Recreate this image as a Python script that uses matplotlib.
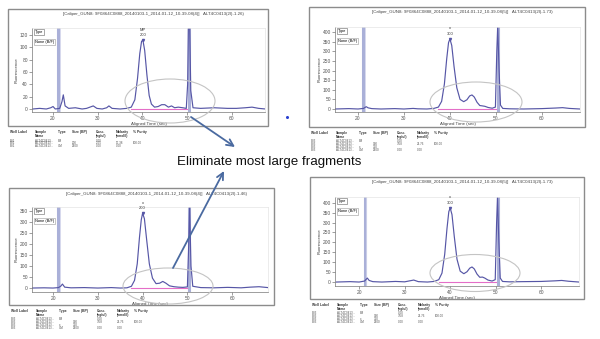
import matplotlib
matplotlib.use("Agg")
from matplotlib import pyplot as plt
from matplotlib.patches import Ellipse, Rectangle

plt.rcParams['font.family'] = ['Liberation Sans', 'DejaVu Sans']

# ---- data ----
# panel 1 (top left)
time1 = [15.5, 17, 18.5, 19.5, 20, 20.5, 21.5, 22.0, 22.3, 22.7, 23.5, 25, 26.5, 27.5,
         29, 29.8, 31, 32, 32.5, 33.2, 35, 36.5, 37.5, 38.3, 38.9, 39.4, 39.8, 40.1,
         40.5, 41.0, 41.5, 42.0, 42.7, 43.5, 44.3, 45.0, 45.8, 46.5, 47.2, 48, 49,
         49.8, 50.1, 50.3, 50.5, 50.8, 51.3, 53, 56, 59, 61, 63, 64.5, 66, 67.5]
fluor1 = [0, 1, 0, 2, 4, 0, 1, 12, 23, 5, 1, 2, 0, 1, 5, 1, 0, 2, 5, 1, 0, 1, 3, 15,
          50, 90, 110, 112, 95, 55, 22, 8, 3, 4, 7, 7, 3, 5, 2, 3, 2, 1, 40, 160, 160,
          30, 2, 1, 2, 1, 1, 2, 3, 1, 0]

# panel 2 (top right)
time2 = [15.0, 18, 20, 21.2, 21.8, 22.2, 23, 25, 28, 30, 32, 33, 35, 36.5, 37.5, 38.2,
         38.8, 39.3, 39.7, 40.0, 40.4, 40.9, 41.5, 42.2, 43, 43.7, 44.3, 44.8, 45.3,
         45.9, 46.5, 47.1, 47.6, 48.3, 49.2, 49.9, 50.2, 50.4, 50.7, 51.0, 51.5, 53,
         56, 60, 63, 64.5, 66, 68.3]
fluor2 = [0, 2, 0, 3, 12, 6, 2, 0, 2, 0, 3, 1, 0, 3, 10, 40, 130, 260, 345, 364, 330,
          220, 110, 50, 38, 48, 68, 73, 62, 35, 18, 16, 14, 8, 4, 10, 300, 430, 200,
          20, 3, 1, 0, 2, 5, 7, 3, 0]

# panel 3 (bottom left)
time3 = [15.3, 18, 20, 21.2, 21.7, 22.1, 22.6, 24, 27, 30, 33, 35, 36.5, 37.5, 38.2,
         38.8, 39.3, 39.7, 40.0, 40.4, 40.9, 41.5, 42.2, 43, 43.8, 44.5, 45.2, 46, 47,
         48, 49, 50.0, 50.3, 50.5, 50.8, 51.2, 53, 56, 59, 62, 64, 66, 68]
fluor3 = [0, 1, 0, 2, 8, 18, 4, 1, 2, 0, 2, 0, 1, 8, 35, 110, 230, 310, 340, 315, 220,
          110, 45, 20, 22, 30, 22, 10, 6, 4, 3, 5, 200, 370, 100, 8, 2, 1, 3, 1, 4, 6, 2]

# panel 4 (bottom right)
time4 = time2
fluor4 = [0, 2, 0, 5, 20, 8, 2, 0, 3, 1, 10, 2, 0, 3, 12, 45, 140, 270, 355, 374, 340,
          230, 115, 55, 42, 52, 70, 76, 66, 40, 24, 25, 20, 10, 5, 12, 300, 430, 200,
          20, 3, 1, 2, 3, 6, 8, 4, 0]

lower_marker = 21.2
upper_marker = 50.4
baseline_span = (37.5, 50.0)

peak_time = [40.1, 40.0, 40.0, 40.0]
peak_height = [112, 364, 340, 374]
peak_name = ["MP", "x", "x", "x"]
peak_size = ["200", "300", "200", "300"]

titles = [
    "[Caliper_GUN8: 9F0864C0888_20140103-1_2014-01-12_10-39-08(4)]   ALT4C0413(2I)-1.26)",
    "[Caliper_GUN8: 9F0864C0888_20140103-1_2014-01-12_10-39-08(5)]   ALT4C0413(2I)-1.73)",
    "[Caliper_GUN8: 9F0864C0888_20140103-1_2014-01-12_10-39-08(4)]   ALT4C0413(2I)-1.46)",
    "[Caliper_GUN8: 9F0864C0888_20140103-1_2014-01-12_10-39-08(5)]   ALT4C0413(2I)-1.73)",
]
y_ticks = [range(0, 121, 20), range(0, 401, 50), range(0, 351, 50), range(0, 401, 50)]

table_header = ["Well Label", "Sample\nName", "Type", "Size (BP)", "Conc.\n(ng/ul)",
                "Molarity\n(nmol/l)", "% Purity"]
table_rows_short = [
    ["B01", "ALT4C0413...", "LM", "", "0.00", "", ""],
    ["B01", "ALT4C0413...", "", "200", "2.55", "17.38", "100.00"],
    ["B01", "ALT4C0413...", "UM", "2500", "0.00", "0.00", ""],
]
table_rows_long = [
    ["B03", "ALT4C0413...", "LM", "", "0.00", "", ""],
    ["B03", "ALT4C0413...", "", "300", "3.58", "21.76", "100.00"],
    ["B03", "ALT4C0413...", "x", "320", "", "", ""],
    ["B03", "ALT4C0413...", "UM", "2500", "0.00", "0.00", ""],
]
tables = [table_rows_short, table_rows_long, table_rows_long, table_rows_long]

# ---- layout (pixels: left, top, right, bottom) ----
W, H = 600, 339
frames = [(8, 9, 268, 126), (309, 7, 585, 127), (9, 188, 274, 305), (310, 177, 584, 299)]
plot_boxes = [(32, 28, 265, 112), (335, 27, 580, 112), (32, 207, 268, 292), (335, 197, 579, 286)]
x_limits = [(15.3, 67.4), (15.0, 68.3), (15.3, 68.0), (14.7, 68.3)]
y_limits = [(-4.9, 131.7), (-15.6, 426), (-18, 368), (-20, 429)]
table_tops = [130, 131, 309, 303]
col_offsets = [2, 27, 50, 64, 88, 108, 125]
ellipses = [(170, 101, 90, 44), (476, 102, 92, 40), (168, 286, 90, 36), (475, 273, 90, 37)]

trace_color = "#5656a6"
marker_color = "#aab0d8"
pink = "#e46ec8"

fig = plt.figure(figsize=(W / 100, H / 100), dpi=100)


def rect(box):
    l, t, r, b = box
    return [l / W, 1 - b / H, (r - l) / W, (b - t) / H]


series = [(time1, fluor1), (time2, fluor2), (time3, fluor3), (time4, fluor4)]

for i, (t, f) in enumerate(series):
    ax = fig.add_axes(rect(plot_boxes[i]))
    ax.axvline(lower_marker, color=marker_color, lw=2.2)
    ax.axvline(lower_marker + 0.35, color="#d0d3ea", lw=0.6)
    ax.axvline(upper_marker, color=marker_color, lw=2.2)
    ax.plot(list(baseline_span), [0, 0], color=pink, lw=0.8)
    ax.plot(t, f, color=trace_color, lw=0.85)
    ax.plot(peak_time[i], peak_height[i], marker="v", ms=1.5, color=trace_color)
    ax.annotate(peak_name[i] + "\n" + peak_size[i], (peak_time[i], peak_height[i]),
                xytext=(0, 2), textcoords="offset points", ha="center", va="bottom",
                fontsize=3, color="#333333", linespacing=1.6, annotation_clip=False)
    ax.set_xlim(*x_limits[i])
    ax.set_ylim(*y_limits[i])
    ax.set_xticks([20, 30, 40, 50, 60])
    ax.set_yticks(list(y_ticks[i]))
    ax.tick_params(labelsize=3.5, length=2, width=0.4, pad=1, colors="#555555")
    ax.set_xlabel("Aligned Time (sec)", fontsize=3.2, labelpad=0.5, color="#444444")
    ax.set_ylabel("Fluorescence", fontsize=3.2, labelpad=1, color="#444444")
    for side in ["top", "right"]:
        ax.spines[side].set_color("#e4e4e4")
    for side in ["left", "bottom"]:
        ax.spines[side].set_color("#777777")
    for s in ax.spines.values():
        s.set_linewidth(0.5)
    ax.text(0.012, 0.975, "Type", transform=ax.transAxes, fontsize=2.8, va="top",
            bbox=dict(boxstyle="square,pad=0.3", fc="white", ec="#666666", lw=0.4))
    ax.text(0.012, 0.86, "None (B/F)", transform=ax.transAxes, fontsize=2.8, va="top",
            bbox=dict(boxstyle="square,pad=0.3", fc="white", ec="#999999", lw=0.4))

# overlay in pixel coordinates for frames, titles, tables and annotations
ov = fig.add_axes([0, 0, 1, 1])
ov.set_xlim(0, W)
ov.set_ylim(H, 0)
ov.axis("off")
ov.patch.set_alpha(0)

for i, (l, t, r, b) in enumerate(frames):
    ov.add_patch(Rectangle((l, t), r - l, b - t, fill=False, ec="#8c8c8c", lw=1.0))
    ov.text((l + r) / 2 + 15, t + 5.5, titles[i], fontsize=3.2, ha="center",
            va="center", color="#444444")
    top = table_tops[i]
    for c, head in enumerate(table_header):
        ov.text(l + col_offsets[c], top, head, fontsize=2.4, fontweight="bold",
                va="top", color="#333333", linespacing=1.1)
    for r_i, row in enumerate(tables[i]):
        for c, cell in enumerate(row):
            ov.text(l + col_offsets[c], top + 8.5 + r_i * 2.9, cell, fontsize=2.2,
                    va="top", color="#555555")

for cx, cy, w, h in ellipses:
    ov.add_patch(Ellipse((cx, cy), w, h, fill=False, ec="#c4c4c4", lw=0.8))

arrow_style = dict(arrowstyle="->", color="#4a6aa0", lw=1.3, mutation_scale=12,
                   shrinkA=0, shrinkB=0)
ov.annotate("", xy=(235, 147), xytext=(191, 117), arrowprops=arrow_style)
ov.annotate("", xy=(224, 171), xytext=(173, 268), arrowprops=arrow_style)

ov.text(269, 162, "Eliminate most large fragments", fontsize=9.6, ha="center",
        va="center", color="#111111")
ov.plot(287, 117, marker="o", ms=1.2, color="#2a40d0")

fig.savefig("out.png", dpi=100)
